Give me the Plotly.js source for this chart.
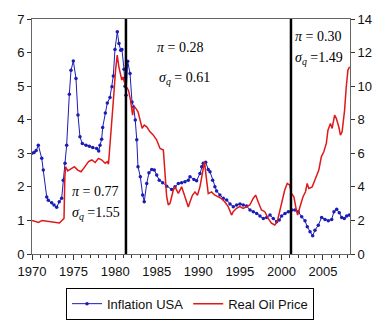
<!DOCTYPE html>
<html>
<head>
<meta charset="utf-8">
<script src="https://cdn.plot.ly/plotly-3.0.1.min.js"></script>
<style>html,body{margin:0;padding:0;background:#fff;}#chart{width:380px;height:324px;}</style>
</head>
<body>
<div id="chart"></div>
<script>
// Inflation USA (left axis), decimal years
const inflYears = [1970.0,1970.25,1970.5,1970.76,1971.17,1971.36,1971.77,1971.96,1972.37,1972.65,1972.97,1973.28,1973.57,1973.76,1973.97,1974.17,1974.49,1974.69,1974.97,1975.29,1975.53,1975.77,1976.05,1976.5,1976.9,1977.3,1977.78,1978.02,1978.18,1978.38,1978.5,1978.82,1979.06,1979.38,1979.62,1979.78,1979.98,1980.26,1980.46,1980.67,1980.82,1981.07,1981.19,1981.31,1981.51,1981.79,1982.03,1982.23,1982.42,1982.6,1982.75,1983.03,1983.31,1983.5,1983.8,1984.07,1984.4,1984.71,1985.0,1985.31,1985.72,1986.2,1986.8,1987.2,1987.6,1988.0,1988.4,1988.8,1989.0,1989.48,1989.8,1990.2,1990.41,1990.6,1990.89,1991.2,1991.41,1991.73,1992.0,1992.2,1992.6,1993.0,1993.42,1993.82,1994.21,1994.62,1995.02,1995.41,1995.82,1996.22,1996.62,1997.03,1997.42,1997.82,1998.23,1998.63,1999.02,1999.43,1999.74,2000.03,2000.43,2000.83,2001.24,2001.63,2002.03,2002.44,2002.84,2003.11,2003.44,2003.76,2004.04,2004.44,2004.84,2005.24,2005.64,2006.05,2006.32,2006.65,2006.96,2007.25,2007.56,2007.85,2008.16];
const inflation = [3.0,3.02,3.08,3.24,2.85,2.5,1.7,1.6,1.53,1.46,1.39,1.56,1.66,2.2,2.7,3.24,4.76,5.47,5.75,5.23,4.14,3.49,3.29,3.24,3.21,3.17,3.14,3.07,3.24,3.42,3.77,4.2,4.5,4.66,4.98,5.3,6.09,6.62,6.27,6.07,6.09,5.5,5.0,4.73,5.74,5.38,4.53,4.38,3.99,3.4,2.6,2.3,1.76,1.56,2.1,2.42,2.52,2.5,2.35,2.2,2.12,2.02,1.92,2.0,2.1,2.12,2.15,2.2,2.3,2.22,2.18,2.4,2.6,2.7,2.73,2.52,2.45,2.2,2.0,1.88,1.76,1.66,1.61,1.49,1.41,1.46,1.49,1.46,1.43,1.31,1.26,1.21,1.13,1.06,1.09,1.16,1.06,0.96,1.01,1.13,1.21,1.26,1.31,1.31,1.26,1.11,0.99,0.81,0.66,0.54,0.71,0.86,1.09,1.03,0.99,1.03,1.26,1.33,1.23,1.09,1.06,1.13,1.16];

// Real oil price (right axis), decimal years
const oilYears = [1970.0,1970.5,1970.8,1971.2,1971.8,1972.5,1973.3,1973.6,1973.85,1973.95,1974.05,1974.3,1974.7,1975.1,1975.5,1975.9,1976.3,1976.8,1977.2,1977.6,1978.0,1978.4,1978.8,1979.05,1979.2,1979.45,1979.65,1979.85,1980.05,1980.25,1980.45,1980.65,1980.8,1980.95,1981.1,1981.35,1981.6,1981.85,1982.1,1982.25,1982.5,1982.75,1983.0,1983.25,1983.5,1983.8,1984.2,1984.6,1985.0,1985.4,1985.8,1986.0,1986.2,1986.4,1986.6,1986.8,1987.0,1987.2,1987.6,1988.0,1988.4,1988.8,1989.0,1989.3,1989.6,1989.9,1990.2,1990.45,1990.75,1991.0,1991.2,1991.6,1992.0,1992.4,1992.8,1993.2,1993.6,1994.0,1994.2,1994.6,1995.0,1995.4,1995.8,1996.2,1996.6,1996.9,1997.2,1997.6,1998.0,1998.4,1998.8,1999.2,1999.5,1999.8,2000.1,2000.4,2000.7,2001.0,2001.2,2001.5,2001.8,2001.95,2002.3,2002.6,2002.9,2003.1,2003.3,2003.7,2004.1,2004.5,2004.8,2005.1,2005.4,2005.6,2005.9,2006.1,2006.4,2006.6,2006.9,2007.1,2007.3,2007.6,2007.8,2008.0,2008.2];
const oilPrice = [2.0,1.95,1.88,2.0,1.95,1.93,1.85,2.0,2.12,4.6,5.2,4.95,5.05,5.2,5.0,4.9,5.16,5.5,5.6,5.45,5.7,5.6,5.4,5.5,5.35,6.79,8.17,9.56,10.95,11.85,11.15,10.65,10.36,10.55,10.26,9.96,9.76,9.17,8.27,8.77,8.67,8.47,7.88,7.48,7.68,7.58,7.28,7.08,6.79,6.29,6.19,4.7,3.41,2.92,3.02,3.41,3.81,4.0,3.61,4.0,3.41,2.8,3.1,3.5,3.7,3.5,4.0,4.8,5.5,4.4,3.6,3.7,3.5,3.4,3.3,3.1,2.82,2.32,2.52,2.72,2.82,2.72,2.8,2.92,3.31,3.51,3.11,2.62,2.52,2.12,1.83,1.73,1.92,2.62,3.31,3.81,4.2,4.1,3.61,3.41,2.62,2.32,2.92,3.41,3.71,4.2,3.91,4.0,4.5,5.0,5.79,6.09,6.59,7.38,7.78,7.48,8.27,8.08,7.58,7.08,7.28,8.57,9.96,10.95,11.15];

const breakYears = [1981.3, 2001.15];
const xTicks = [1970,1975,1980,1985,1990,1995,2000,2005];
const leftTicks = [0,1,2,3,4,5,6,7];
const rightTicks = [0,2,4,6,8,10,12,14];
const labels = [
  {x: 1984.8, y: 6.16, text: '<i>π</i> = 0.28'},
  {x: 1985.0, y: 5.24, text: '<i>σ</i><sub><i>q</i></sub> = 0.61'},
  {x: 2001.4, y: 6.49, text: '<i>π</i> = 0.30'},
  {x: 2001.4, y: 5.83, text: '<i>σ</i><sub><i>q</i></sub> =1.49'},
  {x: 1974.55, y: 1.85, text: '<i>π</i> = 0.77'},
  {x: 1974.55, y: 1.22, text: '<i>σ</i><sub><i>q</i></sub> =1.55'}
];

const traces = [
  {x: inflYears, y: inflation, name: 'Inflation USA', type: 'scatter', mode: 'lines+markers',
   line: {color: '#1c1cb4', width: 1}, marker: {color: '#1c1cb4', size: 3.5, symbol: 'circle'}, yaxis: 'y'},
  {x: oilYears, y: oilPrice, name: 'Real Oil Price', type: 'scatter', mode: 'lines',
   line: {color: '#e01818', width: 1.5}, yaxis: 'y2'}
];

const axisFont = {family: 'Liberation Sans, Arial, sans-serif', size: 13, color: '#111'};

const layout = {
  width: 380, height: 324,
  margin: {l: 32, r: 30, t: 19, b: 70},
  paper_bgcolor: '#fff', plot_bgcolor: '#fff',
  showlegend: true,
  legend: {orientation: 'h', xref: 'container', yref: 'container', x: 0.5, xanchor: 'center', y: 0.112, yanchor: 'top',
           bordercolor: '#000', borderwidth: 1, font: {family: 'Liberation Sans, Arial, sans-serif', size: 13, color: '#111'},
           itemwidth: 30, tracegroupgap: 0},
  xaxis: {range: [1970, 2008.25], tickvals: xTicks, ticktext: xTicks.map(String), ticks: 'outside', ticklen: 5,
          tickcolor: '#333', showgrid: false, zeroline: false, showline: true, linecolor: '#666', mirror: true,
          tickfont: axisFont, minor: {dtick: 1, ticks: 'outside', ticklen: 3, tickcolor: '#333', showgrid: false}},
  yaxis: {range: [0, 7], tickvals: leftTicks, ticks: 'outside', ticklen: 4, tickcolor: '#333', showgrid: false,
          zeroline: false, showline: true, linecolor: '#666', tickfont: axisFont},
  yaxis2: {range: [0, 14], tickvals: rightTicks, overlaying: 'y', side: 'right', ticks: 'outside', ticklen: 4,
           tickcolor: '#333', showgrid: false, zeroline: false, showline: true, linecolor: '#666', tickfont: axisFont},
  shapes: breakYears.map(b => ({type: 'line', xref: 'x', yref: 'paper', x0: b, x1: b, y0: 0, y1: 1,
                                line: {color: '#000', width: 2.5}})),
  annotations: labels.map(a => ({x: a.x, y: a.y, xref: 'x', yref: 'y', text: a.text, showarrow: false,
                                 xanchor: 'left', yanchor: 'middle',
                                 font: {family: 'Liberation Serif, Times New Roman, serif', size: 14, color: '#000'}}))
};

Plotly.newPlot('chart', traces, layout, {displayModeBar: false, staticPlot: true});
</script>
</body>
</html>
